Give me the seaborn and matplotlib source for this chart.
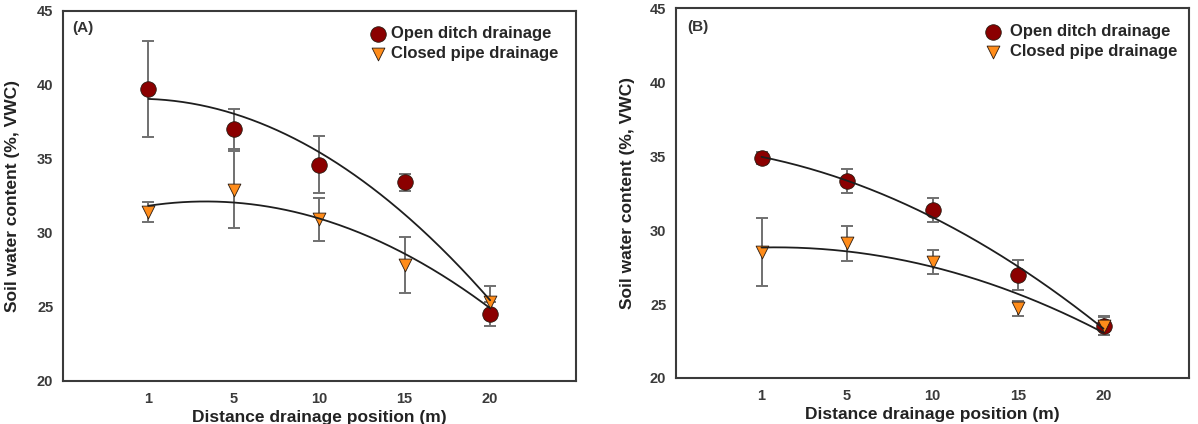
import numpy as np
import pandas as pd
import seaborn as sns
import matplotlib.pyplot as plt

# distances along the drainage line (plotted at equal spacing)
distance_labels = ["1", "5", "10", "15", "20"]

# panel A
a_open = [39.7, 37.0, 34.6, 33.4, 24.5]
a_open_err = [3.25, 1.35, 1.95, 0.55, 0.8]
a_closed = [31.4, 32.9, 30.9, 27.8, 25.3]
a_closed_err = [0.65, 2.6, 1.45, 1.9, 1.1]

# panel B
b_open = [34.9, 33.3, 31.35, 26.95, 23.55]
b_open_err = [0.4, 0.8, 0.8, 1.0, 0.65]
b_closed = [28.5, 29.1, 27.85, 24.7, 23.5]
b_closed_err = [2.3, 1.2, 0.8, 0.5, 0.6]

series_names = ["Open ditch drainage", "Closed pipe drainage"]
panel_tags = ["(A)", "(B)"]

sns.set_style("white")
plt.rcParams['font.family'] = ['Liberation Sans', 'DejaVu Sans']
plt.rcParams['font.weight'] = 'bold'

OPEN_COLOR = "#8b0000"
CLOSED_COLOR = "#ff8c1a"
AXIS_COLOR = "#3a3a3a"


def draw_panel(ax, open_vals, open_err, closed_vals, closed_err, tag, leg_anchor, text_pad):
    idx = np.arange(len(distance_labels))
    df = pd.DataFrame({
        "pos": np.concatenate([idx, idx]),
        "swc": open_vals + closed_vals,
        "err": open_err + closed_err,
        "series": [series_names[0]] * len(idx) + [series_names[1]] * len(idx),
    })

    # error bars (grey, capped)
    for name in series_names:
        sub = df[df.series == name]
        ax.errorbar(sub.pos, sub.swc, yerr=sub.err, fmt="none", ecolor="#707070",
                    elinewidth=1.4, capsize=4.5, capthick=1.4, zorder=2)

    # quadratic fits drawn through the data
    xs = np.linspace(0, len(idx) - 1, 200)
    for name in series_names:
        sub = df[df.series == name]
        coef = np.polyfit(sub.pos, sub.swc, 2)
        sns.lineplot(x=xs, y=np.polyval(coef, xs), ax=ax, color="#1e1e1e",
                     linewidth=1.3, zorder=4)

    # the two series, circles a little larger than the triangles
    styles = [(OPEN_COLOR, "o", 125), (CLOSED_COLOR, "v", 85)]
    for name, (col, mk, size) in zip(series_names, styles):
        sub = df[df.series == name]
        sns.scatterplot(x=sub.pos, y=sub.swc, color=col, marker=mk, s=size,
                        edgecolor="#2a1a10", linewidth=0.6, ax=ax, zorder=3,
                        label=name)

    ax.set_xlim(-1, 5)
    ax.set_ylim(20, 45)
    ax.set_xticks(idx)
    ax.set_xticklabels(distance_labels)
    ax.set_yticks(np.arange(20, 46, 5))
    ax.tick_params(direction="in", length=3, width=1, colors=AXIS_COLOR,
                   labelsize=10.5, pad=8)
    ax.tick_params(axis="y", pad=7)
    for lab in ax.get_xticklabels() + ax.get_yticklabels():
        lab.set_fontweight("bold")
    for sp in ax.spines.values():
        sp.set_color(AXIS_COLOR)
        sp.set_linewidth(1.5)

    ax.set_xlabel("Distance drainage position (m)", fontsize=12.5,
                  fontweight="bold", color="#222222")
    ax.set_ylabel("Soil water content (%, VWC)", fontsize=12.5,
                  fontweight="bold", color="#222222")
    ax.xaxis.set_label_coords(0.5, -0.079)

    ax.text(tag[1], tag[2], tag[0], transform=ax.transAxes, fontsize=11,
            fontweight="bold", color="#333333", va="center", ha="left")

    handles, labels = ax.get_legend_handles_labels()
    ax.legend(handles, labels, loc="upper left", bbox_to_anchor=leg_anchor,
              frameon=False, fontsize=12, handlelength=1.0, handletextpad=text_pad,
              labelspacing=0.3, borderpad=0, borderaxespad=0)


fig = plt.figure(figsize=(11.98, 4.24), dpi=100)
ax_a = fig.add_axes([0.0526, 0.1021, 0.4278, 0.8726])
ax_b = fig.add_axes([0.5643, 0.1085, 0.4282, 0.8719])

draw_panel(ax_a, a_open, a_open_err, a_closed, a_closed_err,
           (panel_tags[0], 0.018, 0.953), (0.598, 0.959), 0.3)
ax_a.yaxis.set_label_coords(-0.084, 0.5)

draw_panel(ax_b, b_open, b_open_err, b_closed, b_closed_err,
           (panel_tags[1], 0.021, 0.949), (0.601, 0.957), 0.55)
ax_b.yaxis.set_label_coords(-0.080, 0.5)

fig.savefig("out.png", dpi=100)
